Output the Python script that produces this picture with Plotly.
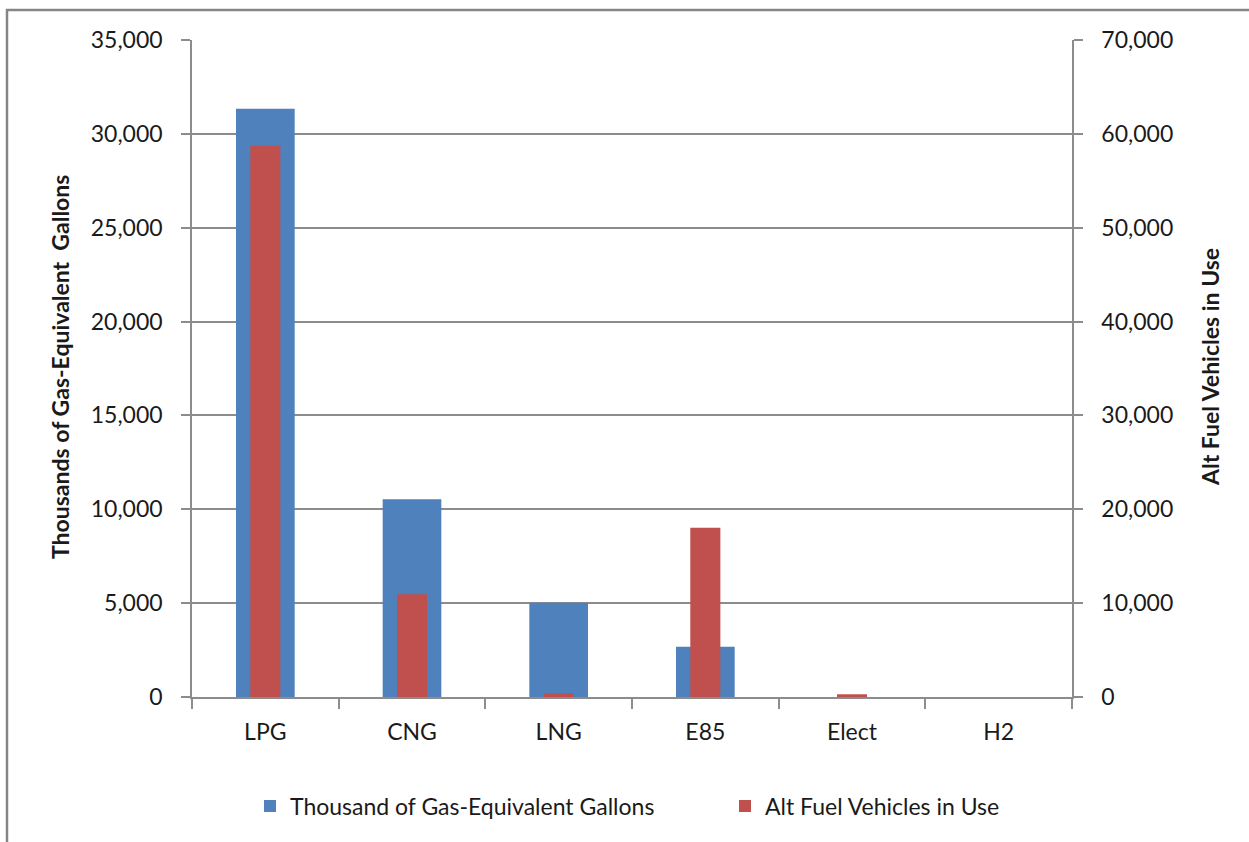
import plotly.graph_objects as go

fuels = ["LPG", "CNG", "LNG", "E85", "Elect", "H2"]
gallons_thousands = [31340, 10540, 5020, 2680, 0, 0]
vehicles_in_use = [58740, 10950, 400, 18020, 290, 0]

left_ticks = [0, 5000, 10000, 15000, 20000, 25000, 30000, 35000]
right_ticks = [0, 10000, 20000, 30000, 40000, 50000, 60000, 70000]

FONT = "Lato, 'Open Sans', sans-serif"
GRID = "#8c8c8c"
TXT = "#1a1a1a"
FS = 23

fig = go.Figure()
fig.add_trace(go.Bar(
    x=fuels, y=gallons_thousands, name="Thousand of Gas-Equivalent Gallons",
    marker=dict(color="#4F81BD", line=dict(width=0)), width=0.4, yaxis="y",
    legend="legend",
))
fig.add_trace(go.Bar(
    x=fuels, y=vehicles_in_use, name="Alt Fuel Vehicles in Use",
    marker=dict(color="#C0504D", line=dict(width=0)), width=0.205, yaxis="y2",
    legend="legend2",
))

W, H = 1249, 842
L, R, T, B = 192, 1072, 40, 697
pw, ph = R - L, B - T


def px(x):
    return (x - L) / pw


def py(y):
    return (B - y) / ph


def legend_at(x_px):
    return dict(
        orientation="h", xref="container", yref="container",
        x=x_px / W, xanchor="left", y=1 - 806 / H, yanchor="middle",
        font=dict(size=FS, family=FONT, color=TXT),
        bgcolor="rgba(0,0,0,0)",
    )


fig.update_layout(
    width=W, height=H,
    margin=dict(l=L, r=W - R, t=T, b=H - B, autoexpand=False),
    paper_bgcolor="white", plot_bgcolor="white",
    barmode="overlay",
    font=dict(family=FONT, size=FS, color=TXT),
    xaxis=dict(
        showline=True, linecolor=GRID, linewidth=1.5,
        ticks="outside", ticklen=10, tickcolor=GRID, tickwidth=1.5,
        tickson="boundaries", showgrid=False, ticklabelstandoff=14,
        tickfont=dict(size=FS, family=FONT, color=TXT),
    ),
    yaxis=dict(
        range=[0, 35000], tickvals=left_ticks, tickformat=",d",
        showline=True, linecolor=GRID, linewidth=1.5,
        ticks="outside", ticklen=9, tickcolor=GRID, tickwidth=1.5,
        showgrid=True, gridcolor=GRID, gridwidth=1.5, zeroline=False,
        ticklabelstandoff=14, tickfont=dict(size=FS, family=FONT, color=TXT),
    ),
    yaxis2=dict(
        range=[0, 70000], tickvals=right_ticks, tickformat=",d",
        overlaying="y", side="right",
        showline=True, linecolor=GRID, linewidth=1.5,
        ticks="outside", ticklen=9, tickcolor=GRID, tickwidth=1.5,
        showgrid=False, zeroline=False,
        ticklabelstandoff=14, tickfont=dict(size=FS, family=FONT, color=TXT),
    ),
    showlegend=True,
    legend=legend_at(250),
    legend2=legend_at(725),
    annotations=[
        dict(text="<b>Thousands of Gas-Equivalent  Gallons</b>", xref="paper", yref="paper",
             x=px(60), y=py(367), xanchor="center", yanchor="middle",
             textangle=-90, showarrow=False,
             font=dict(size=FS, family=FONT, color=TXT)),
        dict(text="<b>Alt Fuel Vehicles in Use</b>", xref="paper", yref="paper",
             x=px(1210), y=py(367), xanchor="center", yanchor="middle",
             textangle=-90, showarrow=False,
             font=dict(size=FS, family=FONT, color=TXT)),
    ],
    shapes=[
        dict(type="rect", xref="paper", yref="paper",
             x0=px(7), x1=px(1270), y0=py(870), y1=py(10),
             line=dict(color="#868686", width=2.5), fillcolor="rgba(0,0,0,0)", layer="below"),
    ],
)

fig.write_html("out.html")
